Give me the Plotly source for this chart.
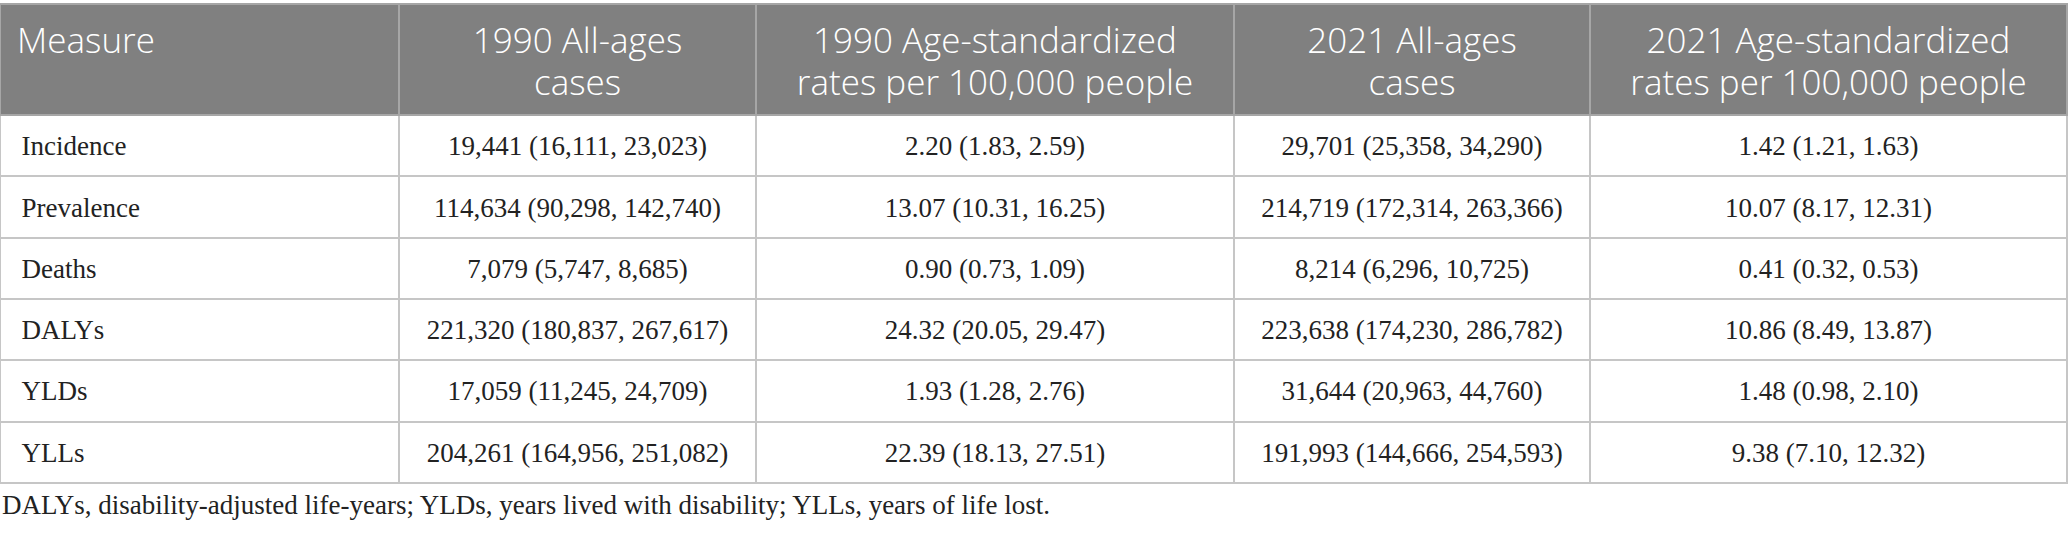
import plotly.graph_objects as go

measures = ["Incidence", "Prevalence", "Deaths", "DALYs", "YLDs", "YLLs"]

# value, lower, upper
cases_1990 = [(19441, 16111, 23023), (114634, 90298, 142740), (7079, 5747, 8685),
              (221320, 180837, 267617), (17059, 11245, 24709), (204261, 164956, 251082)]
rates_1990 = [(2.20, 1.83, 2.59), (13.07, 10.31, 16.25), (0.90, 0.73, 1.09),
              (24.32, 20.05, 29.47), (1.93, 1.28, 2.76), (22.39, 18.13, 27.51)]
cases_2021 = [(29701, 25358, 34290), (214719, 172314, 263366), (8214, 6296, 10725),
              (223638, 174230, 286782), (31644, 20963, 44760), (191993, 144666, 254593)]
rates_2021 = [(1.42, 1.21, 1.63), (10.07, 8.17, 12.31), (0.41, 0.32, 0.53),
              (10.86, 8.49, 13.87), (1.48, 0.98, 2.10), (9.38, 7.10, 12.32)]

header_top = ["Measure", "1990 All-ages", "1990 Age-standardized",
              "2021 All-ages", "2021 Age-standardized"]
header_bottom = ["", "cases", "rates per 100,000 people",
                 "cases", "rates per 100,000 people"]

footnote = ("DALYs, disability-adjusted life-years; YLDs, years lived with disability; "
            "YLLs, years of life lost.")


def fmt_cases(rows):
    return [f"{v:,} ({lo:,}, {hi:,})" for v, lo, hi in rows]


def fmt_rates(rows):
    return [f"{v:.2f} ({lo:.2f}, {hi:.2f})" for v, lo, hi in rows]


cells = [["\u00a0\u00a0" + m for m in measures],
         fmt_cases(cases_1990), fmt_rates(rates_1990),
         fmt_cases(cases_2021), fmt_rates(rates_2021)]
head1 = ["\u00a0" + header_top[0]] + header_top[1:]

W, H = 2068, 535
widths = [399, 357, 478, 356, 477]
top, head_h, row_h = 4, 111, 61.3
clear = "rgba(0,0,0,0)"
align = ["left", "center", "center", "center", "center"]
head_font = dict(family="Open Sans", size=35, color="white", weight=300)
body_font = dict(family="Liberation Serif", size=27, color="#222222")
no_line = dict(color=clear, width=2)


def dom(top_px):
    return dict(x=[0, 2067 / W], y=[0, 1 - top_px / H])


fig = go.Figure()

# grid + fills; plotly tables top-align text, so the text sits in overlay tables
fig.add_trace(go.Table(
    domain=dom(top),
    columnwidth=widths,
    header=dict(values=[""] * 5, fill_color="#808080",
                line=dict(color="#a6a6a6", width=2), height=head_h),
    cells=dict(values=[[""] * len(measures)] * 5, fill_color="white",
               line=dict(color="#c6c6c6", width=2), height=row_h),
))

# first header line + body text
fig.add_trace(go.Table(
    domain=dom(top + 15),
    columnwidth=widths,
    header=dict(values=head1, fill_color=clear, line=no_line,
                align=align, height=head_h - 3, font=head_font),
    cells=dict(values=cells, fill_color=clear, line=no_line,
               align=align, height=row_h, font=body_font),
))

# second header line
fig.add_trace(go.Table(
    domain=dom(top + 57),
    columnwidth=widths,
    header=dict(values=header_bottom, fill_color=clear, line=no_line,
                align=align, height=40, font=head_font),
    cells=dict(values=[[""]] * 5, fill_color=clear, line=no_line, height=20),
))

fig.add_annotation(
    text=footnote, xref="paper", yref="paper", x=0, y=30 / H,
    xanchor="left", yanchor="middle", showarrow=False,
    font=body_font,
)

fig.update_layout(
    width=W, height=H,
    margin=dict(l=0, r=0, t=0, b=0),
    paper_bgcolor="white",
)

fig.write_html("out.html", config={"displayModeBar": False},
               post_script="document.body.style.margin = '0';")
